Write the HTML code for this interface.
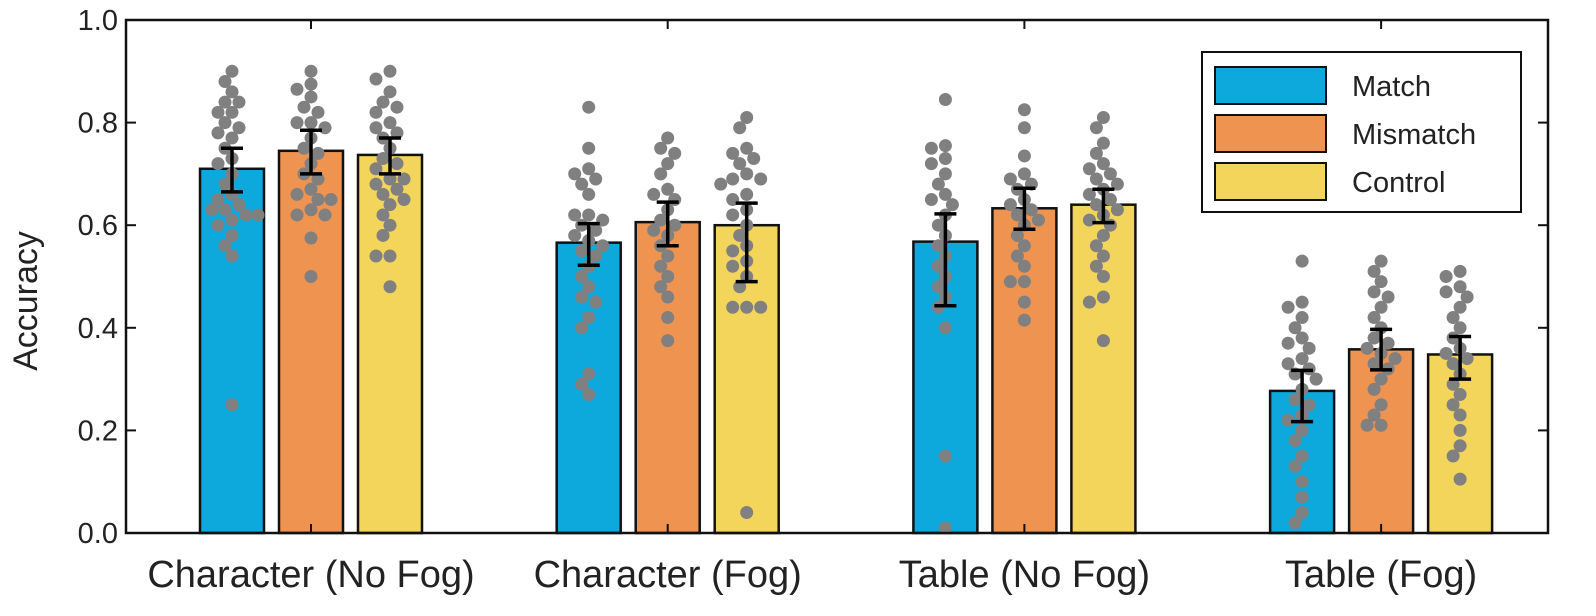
<!DOCTYPE html>
<html><head><meta charset="utf-8"><style>
html,body{margin:0;padding:0;background:#fff;}
svg{display:block;font-family:"Liberation Sans",Arial,sans-serif;}
</style></head><body>
<svg id="chart" width="1596" height="616" viewBox="0 0 1596 616"></svg>
<script>
const categories = ["Character (No Fog)","Character (Fog)","Table (No Fog)","Table (Fog)"];
const seriesNames = ["Match","Mismatch","Control"];
const seriesColors = ["#0EA9DC","#EE9350","#F4D55B"];
const meanMatch = [0.71,0.566,0.568,0.277];
const meanMismatch = [0.745,0.606,0.633,0.358];
const meanControl = [0.737,0.600,0.640,0.348];
const errLoMatch = [0.665,0.522,0.443,0.217];
const errHiMatch = [0.750,0.603,0.622,0.317];
const errLoMismatch = [0.700,0.560,0.592,0.318];
const errHiMismatch = [0.785,0.645,0.672,0.397];
const errLoControl = [0.700,0.490,0.605,0.300];
const errHiControl = [0.770,0.643,0.670,0.383];
const yTicks = [0,0.2,0.4,0.6,0.8,1.0];
const yTickLabels = ["0.0","0.2","0.4","0.6","0.8","1.0"];
const dotsMatch = [
 [0.90,0.88,0.86,0.84,0.84,0.82,0.82,0.80,0.79,0.78,0.77,0.75,0.73,0.72,0.70,0.68,0.66,0.65,0.64,0.63,0.63,0.62,0.62,0.61,0.60,0.58,0.56,0.54,0.25],
 [0.83,0.75,0.71,0.70,0.69,0.68,0.66,0.62,0.62,0.61,0.60,0.59,0.58,0.57,0.56,0.55,0.54,0.52,0.50,0.48,0.46,0.45,0.42,0.40,0.31,0.29,0.27],
 [0.845,0.755,0.75,0.73,0.72,0.70,0.68,0.66,0.65,0.64,0.62,0.60,0.58,0.56,0.54,0.52,0.50,0.48,0.46,0.44,0.40,0.15,0.01],
 [0.53,0.45,0.44,0.42,0.40,0.38,0.37,0.36,0.34,0.33,0.32,0.31,0.30,0.28,0.26,0.25,0.23,0.22,0.20,0.18,0.15,0.13,0.10,0.07,0.04,0.02]];
const dotsMismatch = [
 [0.90,0.875,0.865,0.85,0.83,0.82,0.80,0.80,0.79,0.77,0.75,0.74,0.72,0.70,0.69,0.67,0.66,0.65,0.65,0.63,0.62,0.62,0.575,0.50],
 [0.77,0.75,0.74,0.72,0.70,0.67,0.66,0.65,0.63,0.61,0.60,0.59,0.58,0.56,0.54,0.52,0.50,0.48,0.46,0.42,0.375],
 [0.825,0.79,0.735,0.70,0.69,0.68,0.67,0.65,0.64,0.63,0.62,0.61,0.60,0.58,0.56,0.54,0.52,0.49,0.49,0.45,0.415],
 [0.53,0.51,0.49,0.47,0.46,0.44,0.42,0.40,0.38,0.37,0.36,0.35,0.34,0.33,0.32,0.30,0.28,0.25,0.23,0.21,0.21]];
const dotsControl = [
 [0.90,0.885,0.86,0.84,0.83,0.82,0.80,0.79,0.78,0.77,0.75,0.73,0.72,0.71,0.69,0.69,0.68,0.67,0.66,0.65,0.64,0.62,0.60,0.58,0.54,0.54,0.48],
 [0.81,0.79,0.75,0.74,0.73,0.72,0.70,0.69,0.69,0.68,0.66,0.65,0.63,0.62,0.60,0.58,0.56,0.55,0.53,0.52,0.50,0.48,0.44,0.44,0.44,0.04],
 [0.81,0.79,0.76,0.74,0.72,0.71,0.70,0.69,0.68,0.67,0.66,0.65,0.64,0.63,0.62,0.61,0.60,0.58,0.56,0.54,0.52,0.50,0.46,0.45,0.375],
 [0.51,0.50,0.48,0.47,0.46,0.44,0.42,0.40,0.38,0.36,0.35,0.34,0.33,0.31,0.29,0.27,0.25,0.23,0.20,0.17,0.15,0.105]];

const svg=document.getElementById('chart');
const NS="http://www.w3.org/2000/svg";
const L=126,R=1548,T=20,B=533;
const y=v=>B-(B-T)*v;
const groupX=i=>311+i*356.7;
const barOff=[-79,0,79], barW=64;
function mk(tag,attrs,parent){const e=document.createElementNS(NS,tag);for(const k in attrs)e.setAttribute(k,attrs[k]);(parent||svg).appendChild(e);return e;}
const means=[meanMatch,meanMismatch,meanControl];
const lo=[errLoMatch,errLoMismatch,errLoControl];
const hi=[errHiMatch,errHiMismatch,errHiControl];
const dots=[dotsMatch,dotsMismatch,dotsControl];
const gBars=mk('g',{});


categories.forEach((c,i)=>{
  for(let s=0;s<3;s++){
    const cx=groupX(i)+barOff[s];
    const r=mk('rect',{x:cx-barW/2,y:y(means[s][i]),width:barW,height:B-y(means[s][i]),fill:seriesColors[s],stroke:'#111','stroke-width':2.5},gBars);
    
    
    const placed=[];
    const g=mk('g',{},gBars);
    
    
    dots[s][i].forEach(v=>{
      const py=y(v);
      const offs=[0,-7,7,-14,14,-20,20,-26,26];
      let px=cx;
      for(const o of offs){const tx=cx+o; if(placed.every(p=>Math.hypot(p[0]-tx,p[1]-py)>=11)){px=tx;break;}}
      placed.push([px,py]);
      const d=mk('circle',{cx:px,cy:py,r:6.5,fill:'#808080'},g);
      
      
    });
    const eg=mk('g',{stroke:'#000','stroke-width':3.5},gBars);
    
    
    mk('line',{x1:cx,x2:cx,y1:y(lo[s][i]),y2:y(hi[s][i])},eg);
    mk('line',{x1:cx-11,x2:cx+11,y1:y(lo[s][i]),y2:y(lo[s][i])},eg);
    mk('line',{x1:cx-11,x2:cx+11,y1:y(hi[s][i]),y2:y(hi[s][i])},eg);
  }
  const t=mk('text',{x:groupX(i),y:587,'text-anchor':'middle','font-size':38,fill:'#222'});
  t.textContent=c;
  
  
  mk('line',{x1:groupX(i),x2:groupX(i),y1:B,y2:B-9,stroke:'#111','stroke-width':2});
  mk('line',{x1:groupX(i),x2:groupX(i),y1:T,y2:T+9,stroke:'#111','stroke-width':2});
});
const frame=mk('rect',{x:L,y:T,width:R-L,height:B-T,fill:'none',stroke:'#111','stroke-width':2.5});


yTicks.forEach((v,k)=>{
  mk('line',{x1:L,x2:L+10,y1:y(v),y2:y(v),stroke:'#111','stroke-width':2});
  mk('line',{x1:R,x2:R-10,y1:y(v),y2:y(v),stroke:'#111','stroke-width':2});
  const t=mk('text',{x:118,y:y(v)+10,'text-anchor':'end','font-size':29,fill:'#222'});
  t.textContent=yTickLabels[k];
  
  
});
const yt=mk('text',{x:0,y:0,transform:'translate(37,301) rotate(-90)','text-anchor':'middle','font-size':34,fill:'#222'});
yt.textContent='Accuracy';


const lg=mk('g',{});


mk('rect',{x:1202,y:52,width:319,height:160,fill:'#fff',stroke:'#111','stroke-width':2},lg);
seriesNames.forEach((n,s)=>{
  const yy=67+s*48;
  const sw=mk('rect',{x:1215,y:yy,width:111,height:37,fill:seriesColors[s],stroke:'#111','stroke-width':2},lg);
  
  
  const t=mk('text',{x:1352,y:yy+29,'font-size':29,fill:'#222'},lg);
  t.textContent=n;
  
  
});
</script>
</body></html>
